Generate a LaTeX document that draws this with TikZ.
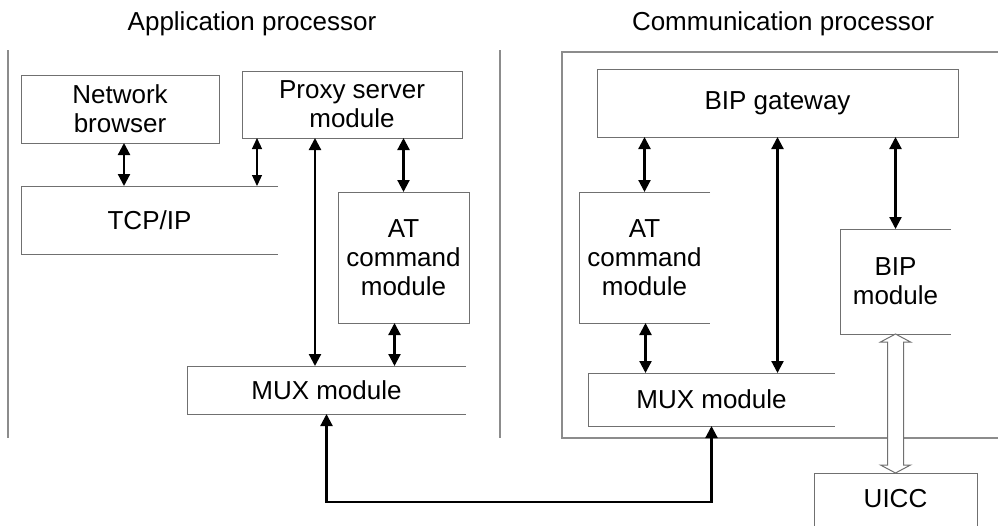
\documentclass[tikz,border=0pt]{standalone}
\usepackage{fontspec}
\setmainfont{Liberation Sans}
\usetikzlibrary{arrows.meta,calc}
\definecolor{boxgray}{RGB}{112,112,112}
\definecolor{panelgray}{RGB}{140,140,140}
\begin{document}
\begin{tikzpicture}[x=1pt,y=-1pt,
  lbl/.style={font=\fontsize{26}{29}\selectfont, align=center, inner sep=0pt, outer sep=0pt},
  fullbox/.style={lbl, draw=boxgray, line width=1pt},
  boxline/.style={draw=boxgray, line width=1pt},
  panel/.style={draw=panelgray, line width=1.1pt},
  arr/.style={line width=2.2pt, {Triangle[length=12pt,width=12pt]}-{Triangle[length=12pt,width=12pt]}},
  thinarr/.style={line width=1.2pt, {Triangle[length=11pt,width=10pt]}-{Triangle[length=11pt,width=10pt]}}]
\useasboundingbox (0,0) rectangle (998,525);

% panels
\draw[panel] (8,50) -- (8,438);
\draw[panel] (500,50) -- (500,438);
\draw[panel] (1002,52) -- (562,52) -- (562,438) -- (1002,438);

% titles
\node[lbl] (apt) at (252,24) {Application processor};
\node[lbl] (cpt) at (783,24) {Communication processor};

% left side
\node[fullbox, minimum width=198pt, minimum height=68pt] (nb) at (120,109) {Network\\browser};
\node[fullbox, minimum width=220pt, minimum height=67pt] (proxy) at (352,104.5) {Proxy server\\module};
\node[lbl, minimum width=257pt, minimum height=68pt] (tcp) at (149.5,220) {TCP/IP};
\draw[boxline] (tcp.north east) -- (tcp.north west) -- (tcp.south west) -- (tcp.south east);
\node[fullbox, minimum width=131pt, minimum height=131pt] (atL) at (403.5,257.5) {AT\\command\\module};
\node[lbl, minimum width=279pt, minimum height=48pt] (muxL) at (326.5,390) {MUX module};
\draw[boxline] (muxL.north east) -- (muxL.north west) -- (muxL.south west) -- (muxL.south east);

% right side
\node[fullbox, minimum width=361pt, minimum height=68pt] (gw) at (777.5,103) {BIP gateway};
\node[lbl, minimum width=131pt, minimum height=131pt] (atR) at (644.5,257.5) {AT\\command\\module};
\draw[boxline] (atR.north east) -- (atR.north west) -- (atR.south west) -- (atR.south east);
\node[lbl, minimum width=111pt, minimum height=105pt] (bipm) at (895.5,281.5) {BIP\\module};
\draw[boxline] (bipm.north east) -- (bipm.north west) -- (bipm.south west) -- (bipm.south east);
\node[lbl, minimum width=247pt, minimum height=53pt] (muxR) at (711.5,399.5) {MUX module};
\draw[boxline] (muxR.north east) -- (muxR.north west) -- (muxR.south west) -- (muxR.south east);
\node[lbl, minimum width=163pt, minimum height=52pt] (uicc) at (895.5,499) {UICC};
\draw[boxline] ([yshift=-12pt]uicc.south west) -- (uicc.north west) -- (uicc.north east) -- ([yshift=-12pt]uicc.south east);

% left connectors
\draw[arr] ([xshift=4pt]nb.south) -- ([xshift=4pt]nb.south |- tcp.north);
\draw[thinarr] ([xshift=15pt]proxy.south west) -- ([xshift=15pt]proxy.south west |- tcp.north);
\draw[arr] ([xshift=-37pt]proxy.south) -- ([xshift=-37pt]proxy.south |- muxL.north);
\draw[arr] (atL.north |- proxy.south) -- (atL.north);
\draw[arr] ([xshift=-9pt]atL.south) -- ([xshift=-9pt]atL.south |- muxL.north);

% right connectors
\draw[arr] (atR.north |- gw.south) -- (atR.north);
\draw[arr] (gw.south) -- (gw.south |- muxR.north);
\draw[arr] (bipm.north |- gw.south) -- (bipm.north);
\draw[arr] ([xshift=1pt]atR.south) -- ([xshift=1pt]atR.south |- muxR.north);

% link between MUX modules
\draw[arr] (muxL.south) -- ++(0,88) -| (muxR.south);

% hollow double arrow BIP module <-> UICC
\draw[boxline, fill=white] (bipm.south) -- ($(bipm.south)+(-15,8)$) -- ($(bipm.south)+(-8,8)$)
  -- ($(uicc.north)+(-8,-8)$) -- ($(uicc.north)+(-15,-8)$) -- (uicc.north)
  -- ($(uicc.north)+(15,-8)$) -- ($(uicc.north)+(8,-8)$)
  -- ($(bipm.south)+(8,8)$) -- ($(bipm.south)+(15,8)$) -- cycle;
\end{tikzpicture}
\end{document}
